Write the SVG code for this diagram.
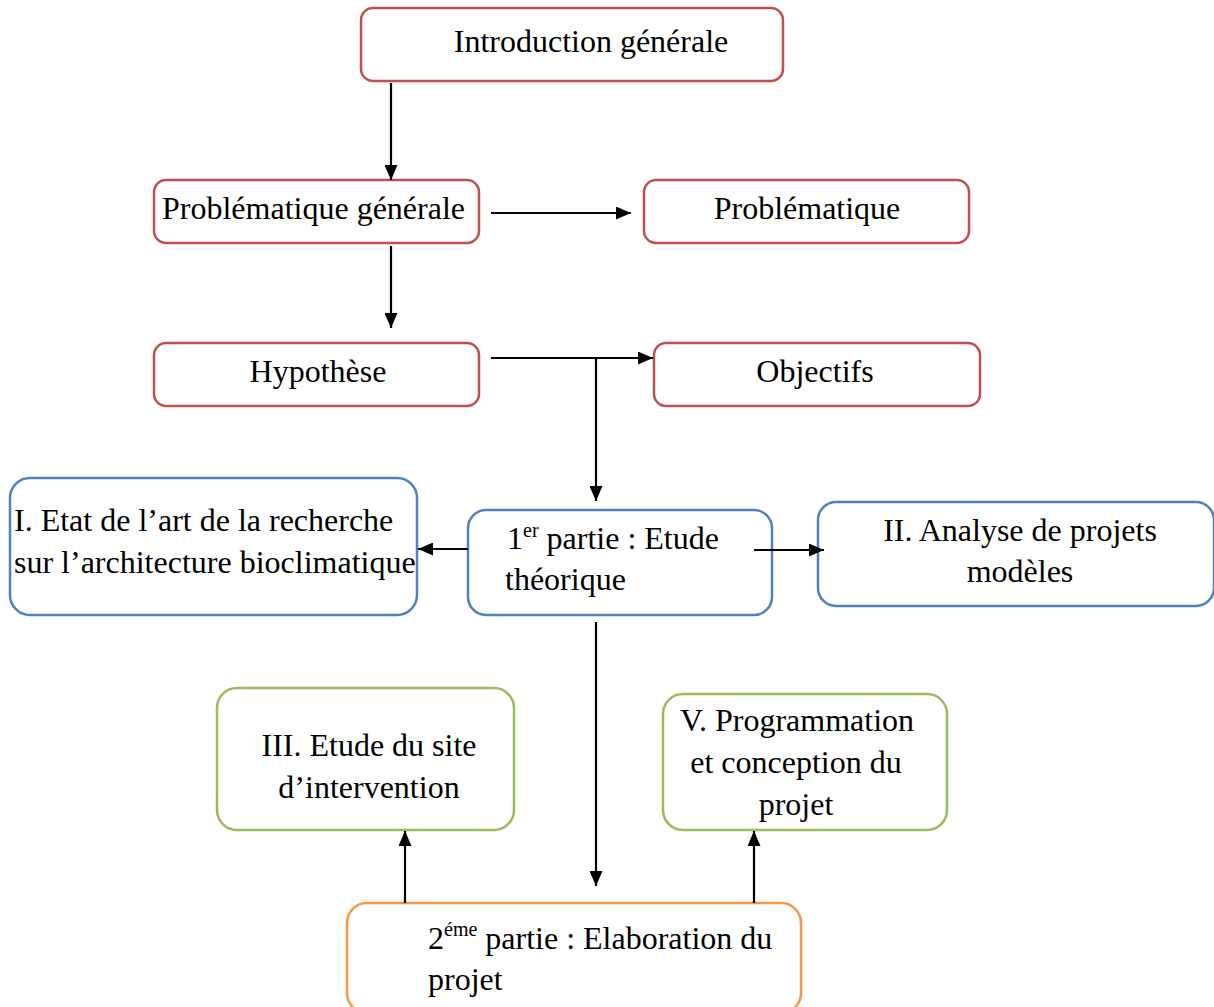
<svg xmlns="http://www.w3.org/2000/svg" width="1214" height="1007" viewBox="0 0 1214 1007">
<style>
  text { font-family: "Liberation Serif", "Times New Roman", serif; font-size: 32px; fill: #000; }
  .sup { font-size: 20px; }
  .box { fill: #fff; stroke-width: 2.5; }
  .red { stroke: #c0504d; }
  .blue { stroke: #4f81bd; }
  .green { stroke: #9bbb59; }
  .orange { stroke: #f79646; }
  .c { text-anchor: middle; }
  .conn line { stroke: #000; stroke-width: 2.2; fill: none; }
</style>
<defs>
  <marker id="ah" viewBox="0 0 15 13" refX="15" refY="6.5" markerWidth="15" markerHeight="13" markerUnits="userSpaceOnUse" orient="auto">
    <path d="M0,0 L15,6.5 L0,13 z" fill="#000"/>
  </marker>
</defs>
<rect width="1214" height="1007" fill="#fff"/>

<g id="intro">
  <rect class="box red" x="361" y="8" width="422" height="73" rx="12"/>
  <text x="591" y="52" class="c">Introduction générale</text>
</g>
<g id="problematique-generale">
  <rect class="box red" x="154" y="180" width="325" height="63" rx="12"/>
  <text x="162" y="219">Problématique générale</text>
</g>
<g id="problematique">
  <rect class="box red" x="644" y="180" width="325" height="63" rx="12"/>
  <text x="807" y="219" class="c">Problématique</text>
</g>
<g id="hypothese">
  <rect class="box red" x="154" y="343" width="325" height="63" rx="12"/>
  <text x="318" y="382" class="c">Hypothèse</text>
</g>
<g id="objectifs">
  <rect class="box red" x="654" y="343" width="326" height="63" rx="12"/>
  <text x="815" y="382" class="c">Objectifs</text>
</g>
<g id="etat-art">
  <rect class="box blue" x="10" y="478" width="407" height="137" rx="20"/>
  <text x="14" y="531">I. Etat de l’art de la recherche</text>
  <text x="14" y="573">sur l’architecture bioclimatique</text>
</g>
<g id="partie1">
  <rect class="box blue" x="468" y="510" width="304" height="105" rx="18"/>
  <text x="507" y="549">1<tspan class="sup" dy="-12">er</tspan><tspan dy="12"> partie : Etude</tspan></text>
  <text x="505" y="590">théorique</text>
</g>
<g id="analyse">
  <rect class="box blue" x="818" y="502" width="396" height="104" rx="18"/>
  <text x="1020" y="541" class="c">II. Analyse de projets</text>
  <text x="1020" y="582" class="c">modèles</text>
</g>
<g id="site">
  <rect class="box green" x="217" y="688" width="297" height="142" rx="20"/>
  <text x="369" y="756" class="c">III. Etude du site</text>
  <text x="369" y="798" class="c">d’intervention</text>
</g>
<g id="programmation">
  <rect class="box green" x="663" y="694" width="284" height="136" rx="20"/>
  <text x="797" y="731" class="c">V. Programmation</text>
  <text x="796" y="773" class="c">et conception du</text>
  <text x="796" y="815" class="c">projet</text>
</g>
<g id="partie2">
  <rect class="box orange" x="347" y="903" width="454" height="110" rx="20"/>
  <text x="428" y="949">2<tspan class="sup" dy="-13">éme</tspan><tspan dy="13"> partie : Elaboration du</tspan></text>
  <text x="428" y="990">projet</text>
</g>

<g class="conn">
  <line x1="391" y1="83" x2="391" y2="180" marker-end="url(#ah)"/>
  <line x1="491" y1="213" x2="631" y2="213" marker-end="url(#ah)"/>
  <line x1="391" y1="246" x2="391" y2="328" marker-end="url(#ah)"/>
  <line x1="491" y1="358" x2="653" y2="358" marker-end="url(#ah)"/>
  <line x1="596" y1="358" x2="596" y2="501" marker-end="url(#ah)"/>
  <line x1="468" y1="549" x2="418" y2="549" marker-end="url(#ah)"/>
  <line x1="754" y1="550" x2="824" y2="550" marker-end="url(#ah)"/>
  <line x1="596" y1="622" x2="596" y2="886" marker-end="url(#ah)"/>
  <line x1="405" y1="903" x2="405" y2="831" marker-end="url(#ah)"/>
  <line x1="754" y1="903" x2="754" y2="831" marker-end="url(#ah)"/>
</g>
</svg>
